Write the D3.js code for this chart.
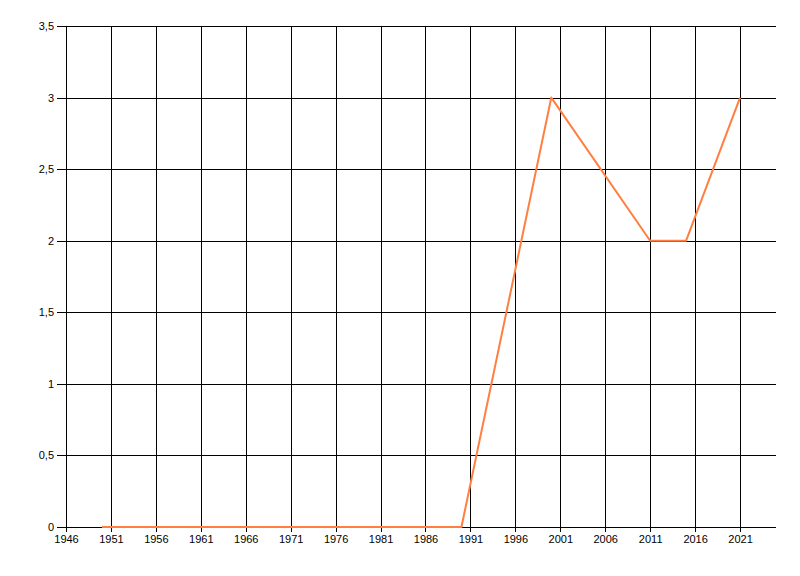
<!DOCTYPE html>
<html>
<head>
<meta charset="utf-8">
<script src="https://cdn.jsdelivr.net/npm/d3@7"></script>
<style>
  body { margin: 0; background: #fff; }
  svg text { font-family: "Liberation Sans", Arial, sans-serif; font-size: 11px; fill: #000; }
</style>
</head>
<body>
<div id="wrapper"></div>
<script>
// data
const years = [1950, 1990, 2000, 2011, 2015, 2021]
const values = [0, 0, 3, 2, 2, 3]
const xTicks = [1946, 1951, 1956, 1961, 1966, 1971, 1976, 1981, 1986, 1991, 1996, 2001, 2006, 2011, 2016, 2021]
const yTicks = [0, 0.5, 1, 1.5, 2, 2.5, 3, 3.5]

function drawChart() {
  const dimensions = {
    width: 800,
    height: 576,
    margin: { top: 26, right: 24, bottom: 49, left: 66 },
  }
  dimensions.boundedWidth = dimensions.width - dimensions.margin.left - dimensions.margin.right
  dimensions.boundedHeight = dimensions.height - dimensions.margin.top - dimensions.margin.bottom

  const svg = d3.select("#wrapper").append("svg")
    .attr("width", dimensions.width)
    .attr("height", dimensions.height)

  const bounds = svg.append("g")
    .attr("transform", `translate(${dimensions.margin.left},${dimensions.margin.top})`)

  const xScale = d3.scaleLinear()
    .domain([1946, 2025])
    .range([0, dimensions.boundedWidth])

  const yScale = d3.scaleLinear()
    .domain([0, 3.5])
    .range([dimensions.boundedHeight, 0])

  const fmt = d => String(d).replace(".", ",")

  // grid
  bounds.append("g").selectAll("line")
    .data(xTicks.slice(1))
    .join("line")
      .attr("x1", d => Math.round(xScale(d)) + 0.5)
      .attr("x2", d => Math.round(xScale(d)) + 0.5)
      .attr("y1", 0)
      .attr("y2", dimensions.boundedHeight)
      .attr("stroke", "#000")
      .attr("shape-rendering", "crispEdges")

  bounds.append("g").selectAll("line")
    .data(yTicks.slice(1))
    .join("line")
      .attr("x1", 0)
      .attr("x2", dimensions.boundedWidth)
      .attr("y1", d => Math.round(yScale(d)) + 0.5)
      .attr("y2", d => Math.round(yScale(d)) + 0.5)
      .attr("stroke", "#000")
      .attr("shape-rendering", "crispEdges")

  // axes
  const xAxis = bounds.append("g")
    .attr("transform", `translate(0,${dimensions.boundedHeight})`)
    .call(d3.axisBottom(xScale).tickValues(xTicks).tickFormat(d => d).tickSizeOuter(0).tickSize(5).tickPadding(3))
  xAxis.select(".domain").attr("d", `M0,0.5H${dimensions.boundedWidth}`)

  const yAxis = bounds.append("g")
    .call(d3.axisLeft(yScale).tickValues(yTicks).tickFormat(fmt).tickSizeOuter(0).tickSize(9).tickPadding(3))

  svg.selectAll(".domain").attr("stroke", "#000").attr("shape-rendering", "crispEdges")
  svg.selectAll(".tick line").attr("stroke", "#000").attr("shape-rendering", "crispEdges")
  svg.selectAll(".tick text").attr("fill", "#000").style("font-size", "11px")
    .style("font-family", "'Liberation Sans', Arial, sans-serif")

  // line
  const data = years.map((y, i) => ({ x: y, y: values[i] }))
  const lineGenerator = d3.line()
    .x(d => xScale(d.x))
    .y(d => yScale(d.y))

  bounds.append("path")
    .attr("d", lineGenerator(data))
    .attr("fill", "none")
    .attr("stroke", "#ff7f40")
    .attr("stroke-width", 2)
    .attr("stroke-linejoin", "round")
}
drawChart()
</script>
</body>
</html>
